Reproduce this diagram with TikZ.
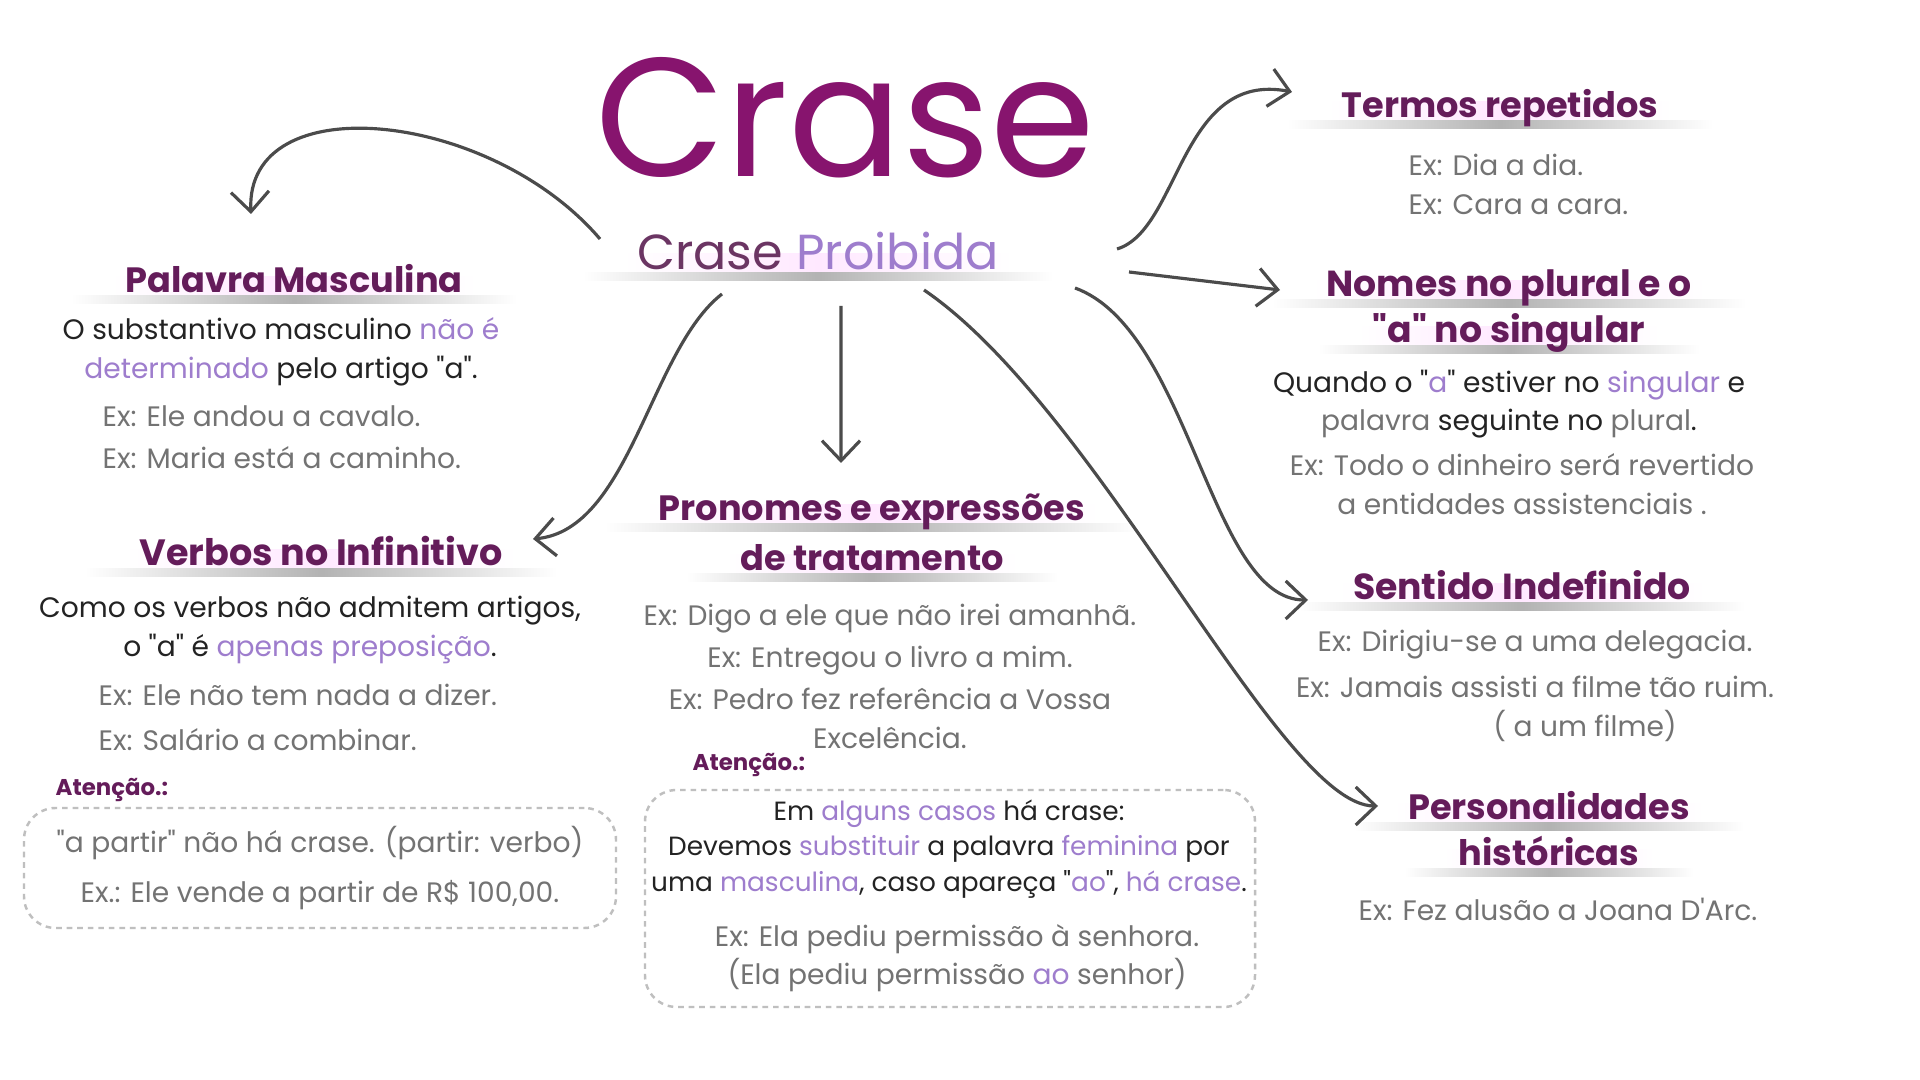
\documentclass[tikz,border=0pt]{standalone}
\usepackage{fontspec}
\setmainfont{Poppins}[Ligatures=TeXOff]
\usepackage{xcolor}
\usetikzlibrary{arrows.meta, positioning, calc, backgrounds}
\definecolor{roxo}{RGB}{135,20,110}
\definecolor{ameixa}{RGB}{100,28,90}
\definecolor{lilas}{RGB}{158,125,205}
\definecolor{cinza}{RGB}{115,115,115}
\definecolor{tinta}{RGB}{35,35,35}
\definecolor{seta}{RGB}{75,75,75}

\newcommand{\lil}[1]{\textcolor{lilas}{#1}}
\newcommand{\sublinha}[1]{%
  \shade[left color=white, right color=white, middle color=magenta!9]
    ([xshift=-1mm,yshift=-0.4mm]#1.base west) rectangle ([xshift=1mm,yshift=1.6mm]#1.base east);
  \shade[left color=white, right color=white, middle color=gray!60]
    ([xshift=-5mm,yshift=-1.1mm]#1.base west) rectangle ([xshift=5mm,yshift=-0.3mm]#1.base east);}

\begin{document}
\begin{tikzpicture}[
  titulo/.style={font=\fontsize{48}{48}\selectfont, text=roxo, inner sep=0pt},
  subtitulo/.style={font=\fontsize{14}{16}\selectfont, text=ameixa!75!gray, inner sep=1pt},
  tema/.style={font=\bfseries\fontsize{10}{12}\selectfont, text=ameixa, inner sep=1pt},
  texto/.style={font=\fontsize{8}{11}\selectfont, text=tinta, align=center, inner sep=0pt},
  exemplo/.style={font=\fontsize{8}{11}\selectfont, text=cinza, align=center, inner sep=0pt},
  aviso/.style={font=\bfseries\fontsize{6.5}{8}\selectfont, text=ameixa, inner sep=0pt},
  caixa/.style={draw=gray!50, dash pattern=on 1.6pt off 1.4pt, line width=0.7pt,
                rounded corners=9pt, align=center, inner sep=0pt},
  arr/.style={-{Straight Barb[length=2mm, width=3.8mm]}, line width=0.9pt, seta},
]
\useasboundingbox (0,0) rectangle (19.2,10.8);

% centro
\node[titulo] (crase) at (8.45,9.62) {Crase};
\node[subtitulo] (proibida) at (8.18,8.29) {Crase \lil{Proibida}};

% coluna da esquerda
\node[tema] (palavra) at (2.94,8.01) {Palavra Masculina};
\node[texto] (palavraTxt) at (2.81,7.28) {O substantivo masculino \lil{não é}\\\lil{determinado} pelo artigo "a".};
\node[exemplo, align=left, anchor=west] (palavraEx) at (1.02,6.425) {Ex: Ele andou a cavalo.\\[1pt]Ex: Maria está a caminho.};

\node[tema, font=\bfseries\fontsize{10.4}{12}\selectfont] (verbos) at (3.21,5.29) {Verbos no Infinitivo};
\node[texto] (verbosTxt) at (3.10,4.50) {Como os verbos não admitem artigos,\\o "a" é \lil{apenas preposição}.};
\node[exemplo, align=left, anchor=west] (verbosEx) at (0.98,3.625) {Ex: Ele não tem nada a dizer.\\[2pt]Ex: Salário a combinar.};
\node[aviso, anchor=west] (aviso1) at (0.55,2.90) {Atenção.:};
\node[caixa, exemplo, minimum width=5.92cm, minimum height=1.2cm] (caixa1) at (3.20,2.12)
  {"a partir" não há crase. (partir: verbo)\\[3pt]Ex.: Ele vende a partir de R\$ 100,00.};

% coluna do meio
\node[tema] (pron1) at (8.72,5.68) {Pronomes e expressões};
\node[tema] (pron2) at (8.72,5.22) {de tratamento};
\node[exemplo] (pronEx) at (8.90,4.04) {Ex: Digo a ele que não irei amanhã.\\[1pt]Ex: Entregou o livro a mim.\\[1pt]Ex: Pedro fez referência a Vossa\\Excelência.};
\node[aviso, anchor=west] (aviso2) at (6.92,3.15) {Atenção.:};
\node[caixa, minimum width=6.10cm, minimum height=2.17cm] (caixa2) at (9.50,1.815) {};
\node[texto, font=\fontsize{7.5}{10}\selectfont] (caixa2Txt) at (9.49,2.31)
  {Em \lil{alguns casos} há crase:\\
   Devemos \lil{substituir} a palavra \lil{feminina} por\\
   uma \lil{masculina}, caso apareça "\lil{ao}", \lil{há crase}.};
\node[exemplo] (caixa2Ex) at (9.57,1.22) {Ex: Ela pediu permissão à senhora.\\(Ela pediu permissão \lil{ao} senhor)};

% coluna da direita
\node[tema] (termos) at (15.00,9.72) {Termos repetidos};
\node[exemplo, align=left, anchor=west] (termosEx) at (14.08,8.955) {Ex: Dia a dia.\\Ex: Cara a cara.};

\node[tema, font=\bfseries\fontsize{10.3}{12}\selectfont] (nomes1) at (15.09,7.92) {Nomes no plural e o};
\node[tema, font=\bfseries\fontsize{10.3}{12}\selectfont] (nomes2) at (15.09,7.47) {"a" no singular};
\node[texto] (nomesTxt) at (15.09,6.76) {Quando o "\lil{a}" estiver no \lil{singular} e\\\textcolor{cinza}{palavra} seguinte no \textcolor{cinza}{plural}.};
\node[exemplo] (nomesEx) at (15.22,5.96) {Ex: Todo o dinheiro será revertido\\a entidades assistenciais .};

\node[tema, font=\bfseries\fontsize{10.3}{12}\selectfont] (sentido) at (15.22,4.95) {Sentido Indefinido};
\node[exemplo] (sentidoEx) at (15.35,3.94) {Ex: Dirigiu-se a uma delegacia.\\[2pt]Ex: Jamais assisti a filme tão ruim.\\\hspace*{1cm}( a um filme)};

\node[tema] (pers1) at (15.49,2.74) {Personalidades};
\node[tema] (pers2) at (15.49,2.29) {históricas};
\node[exemplo] (persEx) at (15.58,1.71) {Ex: Fez alusão a Joana D'Arc.};

% setas
\draw[arr] ([shift={(-2.18,0.12)}]proibida.center) .. controls (4.9,9.7) and (2.45,9.95) .. ([shift={(-0.43,0.65)}]palavra.center);
\draw[arr] ([shift={(-0.96,-0.43)}]proibida.center) .. controls (6.5,7.3) and (6.3,5.5) .. ([shift={(2.12,0.12)}]verbos.center);
\draw[arr] ([shift={(0.23,-0.55)}]proibida.center) -- ([shift={(-0.31,0.49)}]pron1.center);
\draw[arr] ([shift={(1.06,-0.39)}]proibida.center) .. controls (11.0,6.7) and (12.8,2.74) .. ([shift={(-1.71,0)}]pers1.center);
\draw[arr] ([shift={(2.57,-0.37)}]proibida.center) .. controls (11.9,7.5) and (12.1,4.8) .. ([shift={(-2.14,-0.15)}]sentido.center);
\draw[arr] ([shift={(3.11,-0.21)}]proibida.center) -- ([shift={(-2.29,-0.02)}]nomes1.center);
\draw[arr] ([shift={(2.99,0.02)}]proibida.center) .. controls (11.8,8.5) and (11.8,10.1) .. ([shift={(-2.08,0.16)}]termos.center);

\begin{scope}[on background layer]
  \fill[white] (0,0) rectangle (19.2,10.8);
  \foreach \h in {proibida, palavra, verbos, pron1, pron2, termos, nomes1, nomes2, sentido, pers1, pers2}
    {\sublinha{\h}}
\end{scope}
\end{tikzpicture}
\end{document}
